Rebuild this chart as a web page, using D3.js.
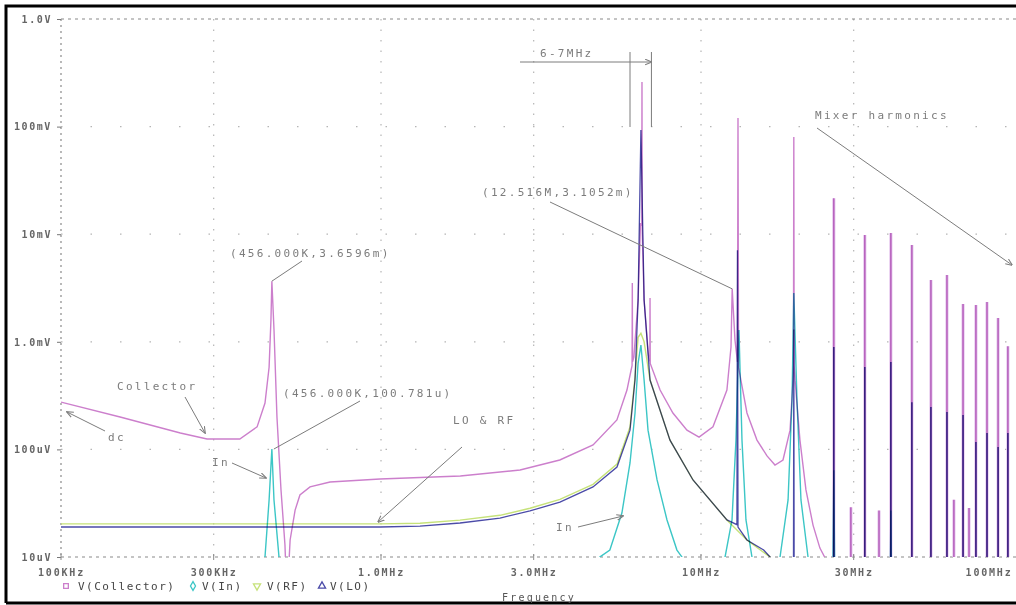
<!DOCTYPE html>
<html><head><meta charset="utf-8">
<script src="https://cdn.jsdelivr.net/npm/d3@7"></script>
<style>body{margin:0;background:#fff;overflow:hidden}svg{display:block}</style>
</head><body><svg id="c" width="1016" height="605"></svg>
<script>
// ---------- data ----------
const yTickValues = [1, 0.1, 0.01, 0.001, 1e-4, 1e-5];
const yTickLabels = ["1.0V","100mV","10mV","1.0mV","100uV","10uV"];
const xTickValues = [1e5, 3e5, 1e6, 3e6, 1e7, 3e7, 1e8];
const xTickLabels = ["100KHz","300KHz","1.0MHz","3.0MHz","10MHz","30MHz","100MHz"];
const seriesNames = ["V(Collector)","V(In)","V(RF)","V(LO)"];

// [frequency Hz, volts]
const collector = [
[1.00e5,2.75e-4],[1.53e5,2.0e-4],[2.36e5,1.42e-4],[2.86e5,1.25e-4],[3.62e5,1.25e-4],[4.10e5,1.62e-4],
[4.34e5,2.7e-4],[4.47e5,5.8e-4],[4.53e5,1.6e-3],[4.56e5,3.6596e-3],[4.63e5,1.3e-3],[4.73e5,2.0e-4],
[4.87e5,4.2e-5],[5.01e5,1.3e-5],[5.085e5,4e-6],[5.20e5,1.44e-5],[5.39e5,2.73e-5],[5.58e5,3.77e-5],
[6.0e5,4.48e-5],[6.93e5,4.98e-5],[9.93e5,5.31e-5],[1.77e6,5.66e-5],[2.72e6,6.44e-5],[3.62e6,7.97e-5],
[4.60e6,1.1e-4],[5.46e6,1.88e-4],[5.87e6,3.56e-4],[6.05e6,5.5e-4],[6.09e6,6.0e-4],[6.10e6,3.52e-3],
[6.11e6,6.5e-4],[6.17e6,7.2e-4],[6.36e6,2.45e-3],[6.47e6,1.27e-2],[6.53e6,1.2e-2],[6.54e6,0.26],
[6.55e6,1.1e-2],[6.64e6,2.45e-3],[6.85e6,7.5e-4],[6.92e6,6.6e-4],[6.93e6,2.55e-3],[6.94e6,6.3e-4],
[7.45e6,3.56e-4],[8.17e6,2.18e-4],[9.04e6,1.51e-4],[9.86e6,1.30e-4],[1.09e7,1.62e-4],[1.205e7,3.56e-4],
[1.241e7,8.95e-4],[1.2516e7,3.1052e-3],[1.277e7,1.04e-3],[1.30e7,6.5e-4],[1.305e7,0.12],[1.31e7,5.8e-4],
[1.392e7,2.18e-4],[1.496e7,1.22e-4],[1.608e7,8.7e-5],[1.703e7,7.16e-5],[1.804e7,7.97e-5],[1.898e7,1.51e-4],
[1.939e7,4.41e-4],[1.945e7,6e-4],[1.95e7,0.08],[1.955e7,6e-4],[1.967e7,4.4e-4],[2.038e7,1.22e-4],
[2.128e7,4.2e-5],[2.239e7,1.98e-5],[2.353e7,1.21e-5],[2.456e7,9.5e-6],[2.55e7,5e-6]
];
const inSig = [
[1e5,5e-6],[4.2e5,5e-6],[4.34e5,1e-5],[4.47e5,3.39e-5],[4.56e5,1.00781e-4],[4.63e5,3.39e-5],[4.8e5,1e-5],[5e5,5e-6],
[4.5e6,5e-6],[4.83e6,1e-5],[5.19e6,1.16e-5],[5.66e6,2.56e-5],[6.0e6,7.48e-5],[6.22e6,2.18e-4],[6.36e6,6.35e-4],
[6.49e6,9.34e-4],[6.64e6,4.41e-4],[6.83e6,1.51e-4],[7.29e6,5.2e-5],[7.83e6,2.21e-5],[8.41e6,1.16e-5],[8.72e6,1e-5],
[9.5e6,5e-6],[1.189e7,1e-5],[1.25e7,2.21e-5],[1.286e7,1.22e-4],[1.314e7,1.29e-3],[1.343e7,1.22e-4],[1.382e7,2.21e-5],
[1.443e7,1e-5],[1.5e7,5e-6],[1.766e7,1e-5],[1.871e7,3.39e-5],[1.925e7,2.88e-4],[1.95e7,2.84e-3],[1.995e7,2.88e-4],
[2.053e7,3.39e-5],[2.16e7,1e-5],[2.2e7,5e-6],[2.58e7,5e-6],[2.60e7,6.4e-5],[2.62e7,5e-6],[3.9e7,5e-6],[3.92e7,2.7e-5],[3.94e7,5e-6],[1e8,5e-6]
];
const rf = [
[1e5,2.03e-5],[9.93e5,2.03e-5],[1.324e6,2.06e-5],[1.766e6,2.2e-5],[2.354e6,2.44e-5],[2.921e6,2.84e-5],
[3.624e6,3.43e-5],[4.597e6,4.74e-5],[5.464e6,7.3e-5],[6.0e6,1.62e-4],[6.22e6,4.7e-4],[6.36e6,1.1e-3],
[6.49e6,1.2e-3],[6.64e6,1.0e-3],[6.93e6,4.41e-4],[8.0e6,1.22e-4],[9.44e6,5.2e-5],[1.205e7,2.21e-5],
[1.392e7,1.44e-5],[1.643e7,1e-5],[1.75e7,7e-6]
];
const lo = [
[1e5,1.9e-5],[9.93e5,1.9e-5],[1.324e6,1.94e-5],[1.766e6,2.07e-5],[2.354e6,2.3e-5],[2.921e6,2.68e-5],
[3.624e6,3.24e-5],[4.597e6,4.48e-5],[5.464e6,6.86e-5],[6.0e6,1.51e-4],[6.22e6,4.41e-4],[6.36e6,2.45e-3],
[6.49e6,0.093],[6.64e6,2.45e-3],[6.93e6,4.41e-4],[8.0e6,1.22e-4],[9.44e6,5.2e-5],[1.205e7,2.21e-5],
[1.295e7,2.0e-5],[1.30e7,7.1e-3],[1.305e7,1.9e-5],[1.392e7,1.44e-5],[1.57e7,1.16e-5],[1.643e7,1e-5],
[1.75e7,7e-6],[1.945e7,5e-6],[1.95e7,1.3e-3],[1.955e7,5e-6]
];
// mixer harmonic spikes
const harmFreq = [26.0e6,29.4e6,32.5e6,36.0e6,39.2e6,45.6e6,52.3e6,58.7e6,61.7e6,65.9e6,68.8e6,72.3e6,78.3e6,84.8e6,91.0e6];
const harmCollector = [0.0216,2.9e-5,0.00984,2.7e-5,0.01026,0.00794,0.00375,0.00418,3.4e-5,0.00225,2.85e-5,0.0022,0.00234,0.00166,9.1e-4];
const harmLOFreq = [26.0e6,32.5e6,39.2e6,45.6e6,52.3e6,58.7e6,65.9e6,72.3e6,78.3e6,84.8e6,91.0e6];
const harmLO = [8.95e-4,5.83e-4,6.49e-4,2.75e-4,2.48e-4,2.23e-4,2.09e-4,1.17e-4,1.42e-4,1.05e-4,1.42e-4];

// ---------- layout ----------
const L = 61, R = 1021, T = 19, B = 557;
const colors = {col:"#cc7fcc", inp:"#3cc6c6", rf:"#c6e27a", lo:"#4b4ba8"};
const gray = "#7c7c7c";
const svg = d3.select("#c");
const x = d3.scaleLog().domain([1e5,1e8]).range([L,R]);
const y = d3.scaleLog().domain([1e-5,1]).range([B,T]);

// frame
svg.append("path").attr("d","M6,603 L6,6 L1016,6").attr("fill","none").attr("stroke","#000").attr("stroke-width",3);
svg.append("line").attr("x1",6).attr("x2",1016).attr("y1",603).attr("y2",603).attr("stroke","#000").attr("stroke-width",3);

// grid
const grid = svg.append("g");
xTickValues.slice(1,-1).forEach(v=>{
  grid.append("line").attr("x1",x(v)).attr("x2",x(v)).attr("y1",T).attr("y2",B)
    .attr("stroke","#b5b5b5").attr("stroke-width",1.2).attr("stroke-dasharray","1.5,9");
});
yTickValues.slice(1,-1).forEach(v=>{
  grid.append("line").attr("x1",L).attr("x2",R).attr("y1",y(v)).attr("y2",y(v))
    .attr("stroke","#b5b5b5").attr("stroke-width",1.2).attr("stroke-dasharray","1.5,28");
});
const ax = svg.append("g").attr("stroke","#8a8a8a").attr("stroke-width",1.2);
ax.append("line").attr("x1",L).attr("x2",R).attr("y1",T).attr("y2",T).attr("stroke-dasharray","3,4");
ax.append("line").attr("x1",L).attr("x2",R).attr("y1",B).attr("y2",B).attr("stroke-dasharray","3,4");
ax.append("line").attr("x1",L).attr("x2",L).attr("y1",T).attr("y2",B).attr("stroke-dasharray","2,4");

// y axis
const yAxis = d3.axisLeft(y).tickValues(yTickValues).tickFormat((d,i)=>yTickLabels[i]).tickSize(4).tickPadding(5);
const gy = svg.append("g").attr("transform",`translate(${L},0)`).call(yAxis);
gy.select(".domain").remove();
gy.selectAll(".tick line").attr("stroke","#777");
gy.selectAll("text").attr("font-family","DejaVu Sans Mono").attr("font-size",10).attr("font-weight","bold")
  .attr("fill","#666").attr("letter-spacing","1.6px");

// x axis
const xAxis = d3.axisBottom(x).tickValues(xTickValues).tickFormat((d,i)=>xTickLabels[i]).tickSize(0).tickPadding(12);
const gx = svg.append("g").attr("transform",`translate(0,${B})`).call(xAxis);
gx.select(".domain").remove();
gx.selectAll("text").attr("font-family","DejaVu Sans Mono").attr("font-size",10).attr("font-weight","bold")
  .attr("fill","#666").attr("letter-spacing","1.8px");
gx.selectAll(".tick").filter((d,i)=>i===xTickValues.length-1).select("text")
  .attr("text-anchor","end").attr("dx",1012-R);
xTickValues.forEach(v=>{
  svg.append("line").attr("x1",x(v)).attr("x2",x(v)).attr("y1",B-3).attr("y2",B+3).attr("stroke","#8a8a8a");
});

// plot
svg.append("clipPath").attr("id","clip").append("rect").attr("x",L).attr("y",T).attr("width",R-L).attr("height",B-T);
const plot = svg.append("g").attr("clip-path","url(#clip)");
const line = d3.line().x(d=>x(d[0])).y(d=>y(d[1]));
const floorV = 1e-6;
function spikes(fr, tops){
  return fr.map((f,i)=>`M${x(f)},${y(floorV)}L${x(f)},${y(tops[i])}`).join("");
}
function draw(d, c, w, op){
  plot.append("path").attr("d",d).attr("fill","none").attr("stroke",c).attr("stroke-width",w)
    .attr("stroke-opacity",op||1).style("mix-blend-mode","multiply");
}
draw(line(collector), colors.col, 1.4);
draw(spikes(harmFreq, harmCollector), "#e6c8ee", 3.2);
draw(spikes(harmFreq, harmCollector), colors.col, 1.6);
draw(line(inSig), colors.inp, 1.4);
draw(line(rf), colors.rf, 1.4);
draw(line(lo), colors.lo, 1.3);
draw(spikes(harmLOFreq, harmLO), colors.lo, 1.6);

// legend
const lg = svg.append("g").attr("font-family","DejaVu Sans Mono").attr("font-size",11).attr("fill","#444").attr("letter-spacing","1.5px");
const legendItems = [
  {name:seriesNames[0], c:colors.col, sym:d3.symbolSquare, mx:66, tx:78},
  {name:seriesNames[1], c:colors.inp, sym:d3.symbolDiamond, mx:193, tx:202},
  {name:seriesNames[2], c:colors.rf, sym:d3.symbolTriangle, mx:257, tx:267, rot:180},
  {name:seriesNames[3], c:colors.lo, sym:d3.symbolTriangle, mx:322, tx:330}
];
legendItems.forEach(it=>{
  lg.append("path").attr("d",d3.symbol().type(it.sym).size(22)())
    .attr("transform",`translate(${it.mx},586) rotate(${it.rot||0})`)
    .attr("fill","none").attr("stroke",it.c).attr("stroke-width",1.3);
  lg.append("text").attr("x",it.tx).attr("y",590).text(it.name);
});
svg.append("text").attr("x",502).attr("y",601).attr("font-family","DejaVu Sans Mono").attr("font-size",10)
  .attr("fill","#555").attr("letter-spacing","2.2px").text("Frequency");

// annotations
const defs = svg.append("defs");
defs.append("marker").attr("id","ah").attr("viewBox","0 0 10 10").attr("refX",9).attr("refY",5)
  .attr("markerWidth",7).attr("markerHeight",7).attr("orient","auto")
  .append("path").attr("d","M0,1 L10,5 L0,9").attr("fill","none").attr("stroke",gray).attr("stroke-width",1.5);
const an = svg.append("g").attr("font-family","DejaVu Sans Mono").attr("font-size",11).attr("fill",gray).attr("letter-spacing","2.3px");
function txt(s,px,py){ an.append("text").attr("x",px).attr("y",py).text(s); }
function seg(x1,y1,x2,y2,arrow){
  const l = an.append("line").attr("x1",x1).attr("y1",y1).attr("x2",x2).attr("y2",y2).attr("stroke",gray).attr("stroke-width",1);
  if(arrow) l.attr("marker-end","url(#ah)");
}
txt("(456.000K,3.6596m)",230,257); seg(302,261,x(4.56e5),y(3.6596e-3));
txt("(456.000K,100.781u)",283,397); seg(360,401,x(4.56e5)+2,y(1.00781e-4));
txt("(12.516M,3.1052m)",482,196); seg(550,202,x(1.2516e7),y(3.1052e-3));
txt("6-7MHz",540,57); seg(520,62,x(7e6),62,true);
seg(x(6e6),52,x(6e6),127); seg(x(7e6),52,x(7e6),127);
txt("Mixer harmonics",815,119); seg(817,128,1012,265,true);
txt("Collector",117,390); seg(185,397,205,433,true);
txt("dc",108,441); seg(105,431,67,412,true);
txt("In",212,466); seg(232,463,266,478,true);
txt("LO & RF",453,424); seg(462,447,378,522,true);
txt("In",556,531); seg(578,527,623,516,true);
</script></body></html>
